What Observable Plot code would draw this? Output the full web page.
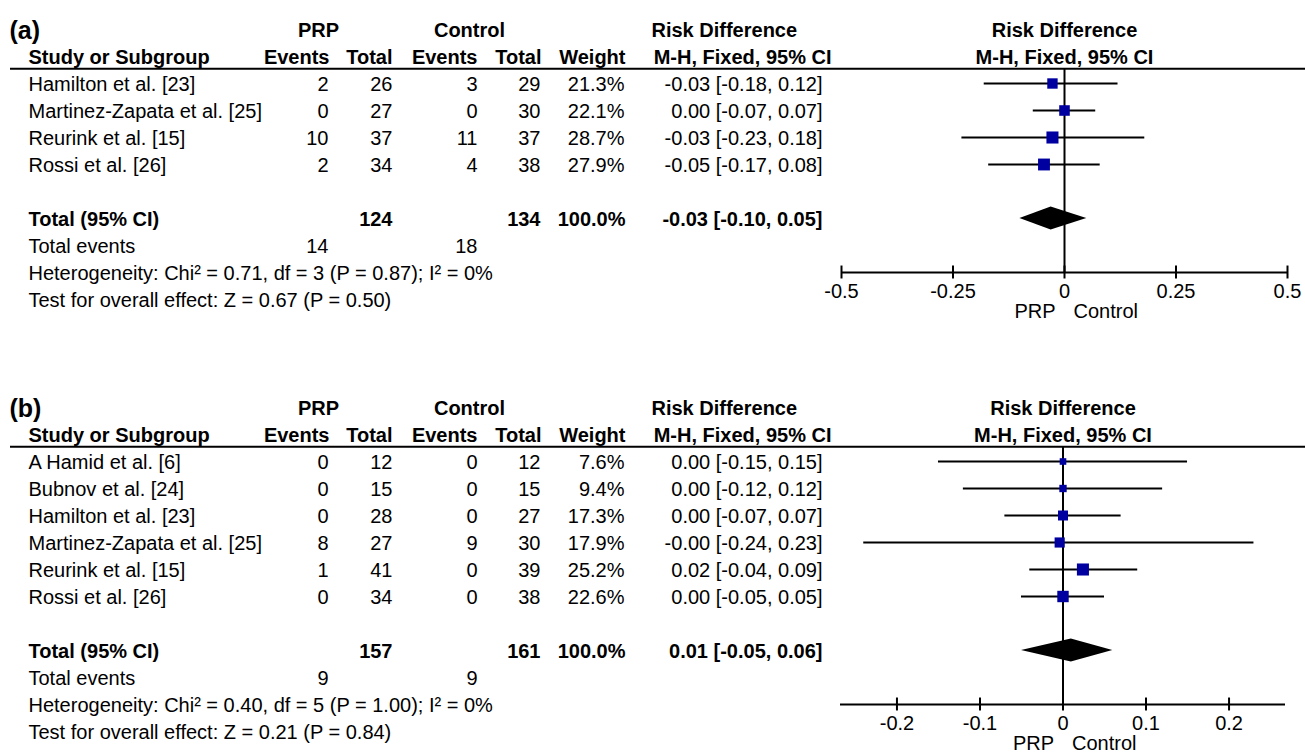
<!DOCTYPE html>
<html><head><meta charset="utf-8">
<script src="https://cdn.jsdelivr.net/npm/d3@7"></script>
<script src="https://cdn.jsdelivr.net/npm/@observablehq/plot@0.6"></script>
<style>
html,body{margin:0;padding:0;background:#fff;overflow:hidden}
#chart svg{display:block}
</style></head><body><div id="chart"></div>
<script>
// ---------- Panel (a) data ----------
const studiesA   = ["Hamilton et al. [23]", "Martinez-Zapata et al. [25]", "Reurink et al. [15]", "Rossi et al. [26]"];
const prpEventsA = [2, 0, 10, 2];
const prpTotalA  = [26, 27, 37, 34];
const ctlEventsA = [3, 0, 11, 4];
const ctlTotalA  = [29, 30, 37, 38];
const weightA    = [21.3, 22.1, 28.7, 27.9];
const estA       = [-0.027, 0.00, -0.027, -0.046];
const loA        = [-0.18, -0.07, -0.23, -0.17];
const hiA        = [0.12, 0.07, 0.18, 0.08];
const totalsA    = [124, 134];          // PRP total, Control total
const totEventsA = [14, 18];            // PRP events, Control events
const pooledA    = [-0.03, -0.10, 0.05]; // estimate, lower, upper
const hetA       = "Heterogeneity: Chi² = 0.71, df = 3 (P = 0.87); I² = 0%";
const testA      = "Test for overall effect: Z = 0.67 (P = 0.50)";
const xTicksA    = [-0.5, -0.25, 0, 0.25, 0.5];
const xDomainA   = [-0.5, 0.5];

// ---------- Panel (b) data ----------
const studiesB   = ["A Hamid et al. [6]", "Bubnov et al. [24]", "Hamilton et al. [23]", "Martinez-Zapata et al. [25]", "Reurink et al. [15]", "Rossi et al. [26]"];
const prpEventsB = [0, 0, 0, 8, 1, 0];
const prpTotalB  = [12, 15, 28, 27, 41, 34];
const ctlEventsB = [0, 0, 0, 9, 0, 0];
const ctlTotalB  = [12, 15, 27, 30, 39, 38];
const weightB    = [7.6, 9.4, 17.3, 17.9, 25.2, 22.6];
const estB       = [0.00, 0.00, 0.00, -0.004, 0.024, 0.00];
const loB        = [-0.15, -0.12, -0.07, -0.24, -0.04, -0.05];
const hiB        = [0.15, 0.12, 0.07, 0.23, 0.09, 0.05];
const totalsB    = [157, 161];
const totEventsB = [9, 9];
const pooledB    = [0.01, -0.05, 0.06];
const hetB       = "Heterogeneity: Chi² = 0.40, df = 5 (P = 1.00); I² = 0%";
const testB      = "Test for overall effect: Z = 0.21 (P = 0.84)";
const xTicksB    = [-0.2, -0.1, 0, 0.1, 0.2];
const xDomainB   = [-0.268, 0.268];

// ---------- layout (pixels) ----------
const W = 1305, ROW = 27, FONT = "Liberation Sans, Arial, Helvetica, sans-serif";
const ML = 10;
const COL = {name: 28, prpE: 328, prpT: 392, ctlE: 477, ctlT: 540, w: 624, ci: 822,
             hPRP: 318, hCtl: 469, hRD: 651, hMH: 831};
const BLUE = "#0000a0";
const fmt2 = v => v.toFixed(2);

function panel(p) {
  const n = p.studies.length;
  const idx = d3.range(n);
  const totRow = n + 1, evRow = n + 2, hetRow = n + 3, testRow = n + 4, axisRow = n + 3;
  const txt = (data, o) => Plot.text(data, {frameAnchor: "left", fontSize: 20, fill: "black", lineAnchor: "middle", dy: 1, ...o});
  const one = (row, s, col, anchor, bold, size) => txt([row], {y: d => d, text: () => s, dx: col - ML, textAnchor: anchor, fontWeight: bold ? "bold" : "normal", fontSize: size || 20});
  const ci = (e, l, h) => `${fmt2(e)} [${fmt2(l)}, ${fmt2(h)}]`;
  const h = 0.43;
  const diamond = [
    {y: totRow - h, x1: p.pooled[0], x2: p.pooled[0]},
    {y: totRow,     x1: p.pooled[1], x2: p.pooled[2]},
    {y: totRow + h, x1: p.pooled[0], x2: p.pooled[0]}
  ];
  return Plot.plot({
    width: W, height: p.height,
    marginLeft: ML, marginRight: 0, marginTop: p.y0, marginBottom: p.height - (p.y0 + ROW * (n + 6)),
    style: {fontFamily: FONT, background: "white", overflow: "visible"},
    x: {domain: p.xDomain, range: p.xRange, axis: null},
    y: {domain: [-3, n + 3], range: [p.y0, p.y0 + ROW * (n + 6)], axis: null},
    r: {type: "sqrt", domain: [0, d3.max(p.weight)], range: [0, 6.8]},
    marks: [
      // header texts
      one(-2, p.label, 9, "start", true, 25),
      one(-2, "PRP", COL.hPRP, "middle", true),
      one(-2, "Control", COL.hCtl, "middle", true),
      one(-2, "Risk Difference", COL.hRD, "start", true),
      one(-1, "Study or Subgroup", COL.name, "start", true),
      one(-1, "Events", COL.prpE + 1, "end", true),
      one(-1, "Total", COL.prpT, "end", true),
      one(-1, "Events", COL.ctlE, "end", true),
      one(-1, "Total", COL.ctlT + 1, "end", true),
      one(-1, "Weight", COL.w + 1, "end", true),
      one(-1, "M-H, Fixed, 95% CI", COL.hMH, "end", true),
      Plot.text(["Risk Difference"], {x: () => 0, y: () => -2, text: d => d, fontSize: 20, fontWeight: "bold", fill: "black", dy: 1}),
      Plot.text(["M-H, Fixed, 95% CI"], {x: () => 0, y: () => -1, text: d => d, fontSize: 20, fontWeight: "bold", fill: "black", dy: 1}),
      Plot.ruleY([-0.55], {stroke: "black", strokeWidth: 2}),
      // study rows
      txt(idx, {y: i => i, text: i => p.studies[i], dx: COL.name - ML, textAnchor: "start"}),
      txt(idx, {y: i => i, text: i => p.prpE[i], dx: COL.prpE - ML, textAnchor: "end"}),
      txt(idx, {y: i => i, text: i => p.prpT[i], dx: COL.prpT - ML, textAnchor: "end"}),
      txt(idx, {y: i => i, text: i => p.ctlE[i], dx: COL.ctlE - ML, textAnchor: "end"}),
      txt(idx, {y: i => i, text: i => p.ctlT[i], dx: COL.ctlT - ML, textAnchor: "end"}),
      txt(idx, {y: i => i, text: i => p.weight[i].toFixed(1) + "%", dx: COL.w - ML, textAnchor: "end"}),
      txt(idx, {y: i => i, text: i => ci(p.est[i], p.lo[i], p.hi[i]), dx: COL.ci - ML, textAnchor: "end"}),
      // totals
      one(totRow, "Total (95% CI)", COL.name, "start", true),
      one(totRow, String(p.totals[0]), COL.prpT, "end", true),
      one(totRow, String(p.totals[1]), COL.ctlT, "end", true),
      one(totRow, "100.0%", COL.w + 1, "end", true),
      one(totRow, ci(...p.pooled), COL.ci, "end", true),
      one(evRow, "Total events", COL.name, "start", false),
      one(evRow, String(p.totEvents[0]), COL.prpE, "end", false),
      one(evRow, String(p.totEvents[1]), COL.ctlE, "end", false),
      one(hetRow, p.het, COL.name, "start", false),
      one(testRow, p.test, COL.name, "start", false),
      // forest plot
      Plot.ruleX([0], {y1: -0.55, y2: axisRow, stroke: "black", strokeWidth: 2}),
      Plot.ruleY(idx, {y: i => i, x1: i => p.lo[i], x2: i => p.hi[i], stroke: "black", strokeWidth: 2}),
      Plot.dot(idx, {x: i => p.est[i], y: i => i, r: i => p.weight[i], symbol: "square", fill: BLUE, stroke: null}),
      Plot.areaX(diamond, {y: "y", x1: "x1", x2: "x2", fill: "black", curve: "linear"}),
      // axis
      Plot.ruleY([axisRow], {x1: p.xDomain[0], x2: p.xDomain[1], stroke: "black", strokeWidth: 2}),
      Plot.ruleX(p.ticks, {x: d => d, y1: axisRow - 0.24, y2: axisRow + 0.24, stroke: "black", strokeWidth: 2}),
      Plot.text(p.ticks, {x: d => d, y: () => axisRow, dy: 19, text: d => String(d), fontSize: 20, fill: "black"}),
      Plot.text(["PRP"], {x: () => 0, y: () => axisRow, dy: 39, dx: -9, text: d => d, textAnchor: "end", fontSize: 20, fill: "black"}),
      Plot.text(["Control"], {x: () => 0, y: () => axisRow, dy: 39, dx: 9, text: d => d, textAnchor: "start", fontSize: 20, fill: "black"})
    ]
  });
}

const chart = document.getElementById("chart");
chart.appendChild(panel({
  label: "(a)", height: 330, y0: 2, xRange: [841, 1287],
  studies: studiesA, prpE: prpEventsA, prpT: prpTotalA, ctlE: ctlEventsA, ctlT: ctlTotalA,
  weight: weightA, est: estA, lo: loA, hi: hiA, totals: totalsA, totEvents: totEventsA,
  pooled: pooledA, het: hetA, test: testA, ticks: xTicksA, xDomain: xDomainA
}));
chart.appendChild(panel({
  label: "(b)", height: 424, y0: 50, xRange: [840, 1285],
  studies: studiesB, prpE: prpEventsB, prpT: prpTotalB, ctlE: ctlEventsB, ctlT: ctlTotalB,
  weight: weightB, est: estB, lo: loB, hi: hiB, totals: totalsB, totEvents: totEventsB,
  pooled: pooledB, het: hetB, test: testB, ticks: xTicksB, xDomain: xDomainB
}));
</script></body></html>
